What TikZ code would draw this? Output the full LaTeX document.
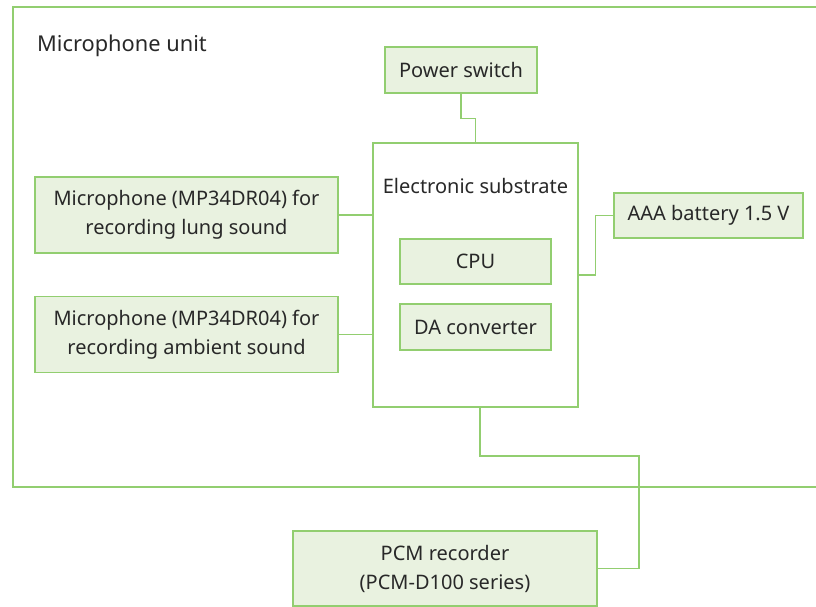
\documentclass[tikz,border=0pt]{standalone}
\usepackage{fontspec}
\setmainfont{Noto Sans}
\usepackage{tikz}
\usetikzlibrary{positioning, calc}
\definecolor{lineGreen}{RGB}{146,206,112}
\definecolor{boxGreen}{RGB}{233,242,224}
\definecolor{inkGray}{RGB}{40,40,40}
\tikzset{
  unit/.style   = {draw=lineGreen, line width=1.4pt},
  block/.style  = {draw=lineGreen, fill=boxGreen, line width=1.4pt,
                   align=center, font=\fontsize{20}{29}\selectfont,
                   text=inkGray, inner sep=0pt},
  board/.style  = {draw=lineGreen, fill=white, line width=1.4pt,
                   minimum width=205pt, minimum height=264pt, inner sep=0pt},
  txt/.style    = {font=\fontsize{20}{29}\selectfont, text=inkGray},
  wire/.style   = {lineGreen, line width=1.4pt}
}

\begin{document}
\begin{tikzpicture}[x=1pt, y=-1pt]
\useasboundingbox (0,0) rectangle (816,607);

%% Outer unit frame (runs off the right edge)
\draw[unit] (13,7) rectangle (830,487);
\node[txt, anchor=west, inner sep=0pt, font=\fontsize{21.8}{29}\selectfont]
  (unitlbl) at (37,46) {Microphone unit};

%% Boxes
\node[block, minimum width=152pt, minimum height=46pt] (pwr) at (461,70) {Power switch};
\node[board] (sub) at (475.5,275) {};
\node[txt] (sublbl) at (475.5,186) {Electronic substrate};
\node[block, minimum width=151pt, minimum height=45pt] (cpu) at (475.5,261.5) {CPU};
\node[block, minimum width=151pt, minimum height=46pt] (dac) at (475.5,327) {DA converter};
\node[block, minimum width=303pt, minimum height=76pt] (mic1) at (186.5,215)
  {Microphone (MP34DR04) for\\recording lung sound};
\node[block, minimum width=303pt, minimum height=76pt] (mic2) at (186.5,334.5)
  {Microphone (MP34DR04) for\\recording ambient sound};
\node[block, minimum width=189pt, minimum height=45pt] (bat) at (708.5,215.5) {AAA battery 1.5 V};
\node[block, minimum width=304pt, minimum height=75pt] (pcm) at (445,568.5)
  {PCM recorder\\(PCM-D100 series)};

%% Connections
\draw[wire] (pwr.south) -- ++(0,25) -| (sub.north);
\draw[wire] (mic1.east) -- (mic1.east -| sub.west);
\draw[wire] (mic2.east) -- (mic2.east -| sub.west);
\draw[wire] (bat.west) -- ++(-18,0) |- (sub.east);
\coordinate (bend) at (639,456);
\draw[wire] ([xshift=4.5pt]sub.south) |- (bend) |- (pcm.east);

\end{tikzpicture}
\end{document}
